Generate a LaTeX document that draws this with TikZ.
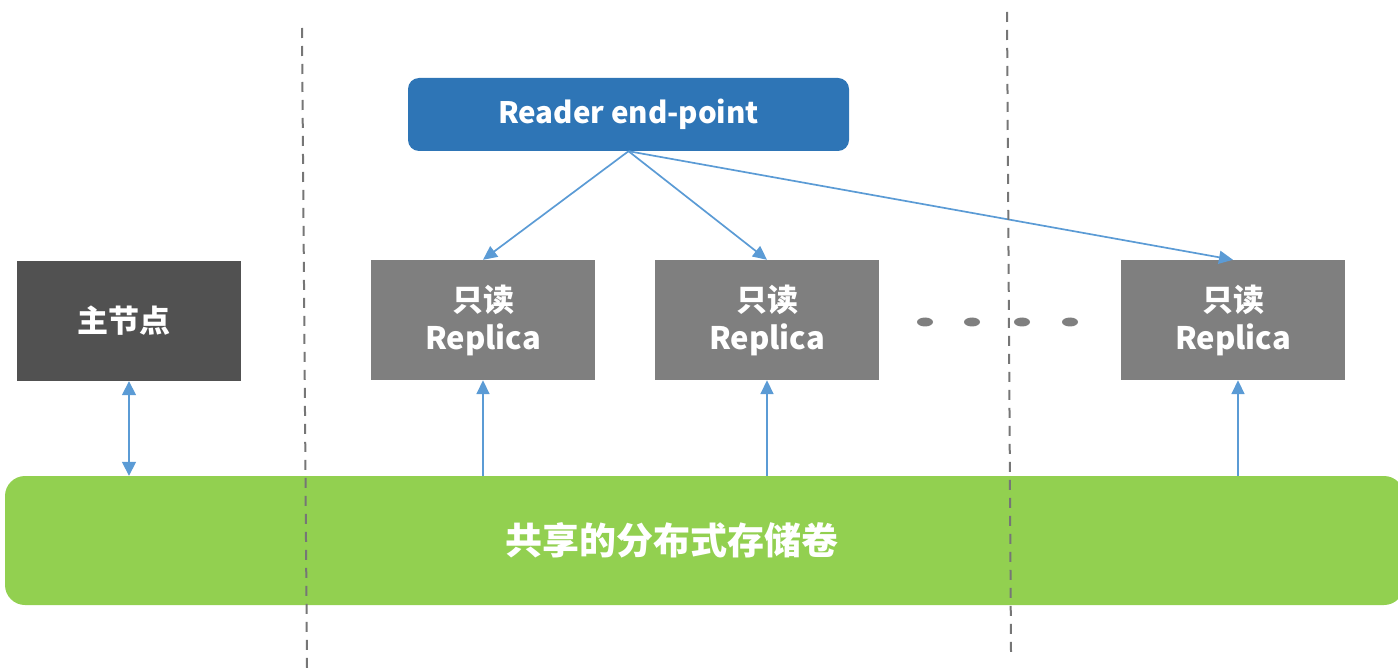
\documentclass[tikz,border=0pt]{standalone}
\usepackage{fontspec}
\newfontfamily\cjk{Noto Sans CJK SC}
\usetikzlibrary{arrows.meta}
\definecolor{rdblue}{HTML}{2E75B6}
\definecolor{arrblue}{HTML}{5B9BD5}
\definecolor{mainfill}{HTML}{515151}
\definecolor{repfill}{HTML}{7F7F7F}
\definecolor{storgreen}{HTML}{92D050}
\definecolor{dashgray}{HTML}{767676}
\tikzset{
  box/.style={rectangle, inner sep=0pt, minimum width=224pt, minimum height=120pt,
    text=white, font=\cjk\bfseries\fontsize{31}{38}\selectfont, align=center},
  mainbox/.style={box, fill=mainfill},
  repbox/.style={box, fill=repfill},
  conn/.style={draw=arrblue, line width=1.7pt, -{Triangle[length=14pt,width=13pt]}},
  dconn/.style={draw=arrblue, line width=1.7pt, {Triangle[length=14pt,width=14pt]}-{Triangle[length=14pt,width=14pt]}},
  divider/.style={draw=dashgray, line width=2pt, dash pattern=on 10pt off 8pt},
  dotmark/.style={fill=repfill}
}
\begin{document}
\begin{tikzpicture}[x=1pt,y=-1pt]
\useasboundingbox (0,0) rectangle (1398,668);
% nodes
\node[rectangle, rounded corners=11pt, fill=rdblue, minimum width=441pt, minimum height=73pt,
  inner sep=0pt, text=white, font=\cjk\bfseries\fontsize{29.5}{34}\selectfont] (reader) at (628.5,114.5) {Reader end-point};
\node[mainbox] (main) at (129,321) {\hspace*{-10pt}主节点};
\node[repbox] (r1) at (483,320) {只读\\Replica};
\node[repbox] (r2) at (767,320) {只读\\Replica};
\node[repbox] (r3) at (1233,320) {只读\\Replica};
\node[rectangle, rounded corners=20pt, fill=storgreen, minimum width=1399pt, minimum height=129pt,
  inner sep=0pt, text=white, font=\cjk\bfseries\fontsize{37}{44}\selectfont] (store) at (704.5,540.5) {\hspace*{-66pt}共享的分布式存储卷};
% dots
\foreach \x in {925,972,1022,1070}{
  \fill[dotmark] (\x,322) ellipse (8pt and 4.5pt);
}
% connectors
\draw[conn] (reader.south) -- (r1.north);
\draw[conn] (reader.south) -- (r2.north);
\draw[conn] (reader.south) -- (r3.north);
\draw[conn] (r1.south |- store.north) -- (r1.south);
\draw[conn] (r2.south |- store.north) -- (r2.south);
\draw[conn] ([xshift=5pt]r3.south |- store.north) -- ([xshift=5pt]r3.south);
\draw[dconn] (main.south) -- (main.south |- store.north);
% dividers
\coordinate (d1a) at (302,28);
\coordinate (d1b) at (307,668);
\coordinate (d2a) at (1007,12);
\coordinate (d2b) at (1011,652);
\draw[divider] (d1a) -- (d1b);
\draw[divider] (d2a) -- (d2b);
\end{tikzpicture}
\end{document}
